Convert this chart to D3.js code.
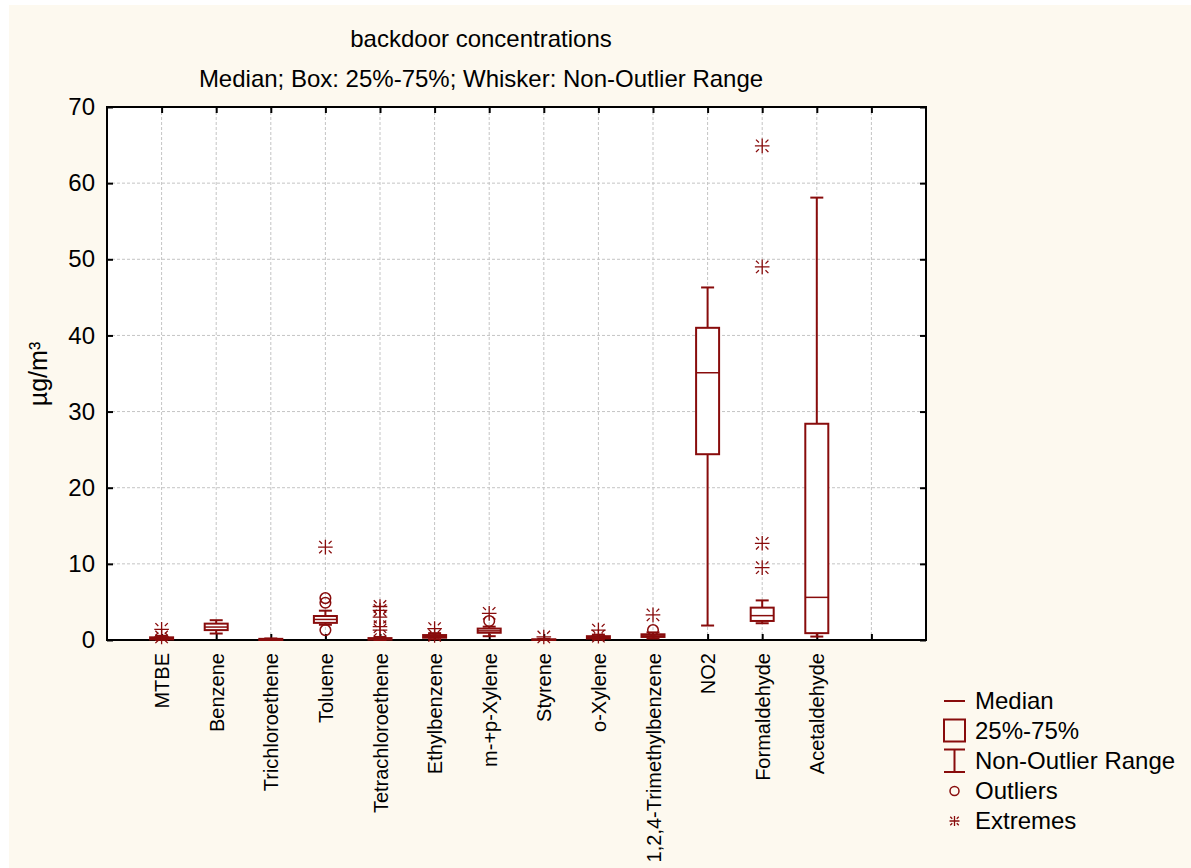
<!DOCTYPE html>
<html>
<head>
<meta charset="utf-8">
<script src="https://cdn.jsdelivr.net/npm/d3@7"></script>
<style>
    html, body { margin: 0; padding: 0; background: #ffffff; }
    svg { display: block; font-family: "Liberation Sans", Arial, sans-serif; }
</style>
</head>
<body>
<div id="chart"></div>
<script>
// values (µg/m³)
const categories = ['MTBE', 'Benzene', 'Trichloroethene', 'Toluene', 'Tetrachloroethene',
    'Ethylbenzene', 'm-+p-Xylene', 'Styrene', 'o-Xylene', '1,2,4-Trimethylbenzene',
    'NO2', 'Formaldehyde', 'Acetaldehyde'];
const whiskerLow  = [0.0, 0.85, 0.0, 2.0, 0.0, 0.1, 0.5, 0.0, 0.05, 0.2, 1.9, 2.2, 0.45];
const q1          = [0.08, 1.3, 0.0, 2.25, 0.05, 0.3, 0.95, 0.0, 0.2, 0.4, 24.4, 2.5, 0.9];
const medians     = [0.15, 1.7, 0.05, 2.7, 0.1, 0.45, 1.2, 0.03, 0.3, 0.55, 35.1, 3.2, 5.6];
const q3          = [0.35, 2.15, 0.15, 3.15, 0.25, 0.65, 1.5, 0.1, 0.5, 0.75, 41.0, 4.25, 28.4];
const whiskerHigh = [0.55, 2.6, 0.2, 3.85, 0.4, 0.9, 1.75, 0.15, 0.7, 1.0, 46.3, 5.2, 58.1];
const outliers = [[], [], [], [5.5, 4.9, 1.3], [], [], [2.5], [], [], [1.3], [], [], []];
const extremes = [[1.4, 0.4], [], [], [12.2], [4.4, 3.9, 3.0, 1.75, 1.3], [1.5, 0.6],
    [3.5], [0.4], [1.3, 0.5], [3.3], [], [64.9, 49.0, 12.7, 9.5], []];
const yTicks = [0, 10, 20, 30, 40, 50, 60, 70];
const legendItems = ['Median', '25%-75%', 'Non-Outlier Range', 'Outliers', 'Extremes'];

const W = 1191, H = 868;
const plot = { left: 107, right: 926, top: 107, bottom: 640 };
const red = '#880c0c';

const svg = d3.select('#chart').append('svg')
    .attr('width', W)
    .attr('height', H);

svg.append('rect')
    .attr('x', 9).attr('y', 5)
    .attr('width', W - 9).attr('height', H - 5)
    .attr('fill', '#fdf9ef');

svg.append('rect')
    .attr('x', plot.left).attr('y', plot.top)
    .attr('width', plot.right - plot.left)
    .attr('height', plot.bottom - plot.top)
    .attr('fill', '#ffffff');

// one empty slot to the right of the last category
const x = d3.scaleLinear()
    .domain([0, categories.length + 2])
    .range([plot.left, plot.right]);
const slots = d3.range(1, categories.length + 2);

const y = d3.scaleLinear()
    .domain([0, 70])
    .range([plot.bottom, plot.top]);

// grid
const grid = svg.append('g')
    .attr('stroke', '#c4c4c4')
    .attr('stroke-width', 1)
    .attr('stroke-dasharray', '3,2');
yTicks.slice(1, -1).forEach(t => {
    grid.append('line')
        .attr('x1', plot.left).attr('x2', plot.right)
        .attr('y1', y(t)).attr('y2', y(t));
});
slots.forEach(s => {
    grid.append('line')
        .attr('x1', x(s)).attr('x2', x(s))
        .attr('y1', plot.top).attr('y2', plot.bottom);
});

// axes with inward ticks on every side
const axisG = svg.append('g').attr('font-family', '"Liberation Sans", Arial, sans-serif');

axisG.append('g')
    .attr('transform', `translate(${plot.left},0)`)
    .call(d3.axisLeft(y).tickValues(yTicks).tickSize(-6).tickPadding(12).tickFormat(d3.format('d')))
    .call(g => g.selectAll('text').attr('font-size', 24).attr('fill', '#000'));

axisG.append('g')
    .attr('transform', `translate(${plot.right},0)`)
    .call(d3.axisRight(y).tickValues(yTicks).tickSize(-6).tickFormat(''));

axisG.append('g')
    .attr('transform', `translate(0,${plot.top})`)
    .call(d3.axisTop(x).tickValues(slots).tickSize(-6).tickFormat(''));

const bottomAxis = axisG.append('g')
    .attr('transform', `translate(0,${plot.bottom})`)
    .call(d3.axisBottom(x).tickValues(slots).tickSize(-6).tickFormat(d => categories[d - 1] || ''));

bottomAxis.selectAll('text')
    .attr('font-size', 20)
    .attr('fill', '#000')
    .attr('text-anchor', 'end')
    .attr('transform', 'rotate(-90)')
    .attr('x', -13)
    .attr('y', 0)
    .attr('dy', '0.35em');

axisG.selectAll('.domain').remove();
axisG.selectAll('.tick line').attr('stroke', '#000').attr('stroke-width', 2);

svg.append('rect')
    .attr('x', plot.left).attr('y', plot.top)
    .attr('width', plot.right - plot.left)
    .attr('height', plot.bottom - plot.top)
    .attr('fill', 'none')
    .attr('stroke', '#000')
    .attr('stroke-width', 2);

// titles
svg.append('text')
    .attr('x', 481).attr('y', 47)
    .attr('text-anchor', 'middle')
    .attr('font-size', 24)
    .text('backdoor concentrations');

svg.append('text')
    .attr('x', 481).attr('y', 87)
    .attr('text-anchor', 'middle')
    .attr('font-size', 24)
    .text('Median; Box: 25%-75%; Whisker: Non-Outlier Range');

svg.append('text')
    .attr('transform', 'translate(47,374) rotate(-90)')
    .attr('text-anchor', 'middle')
    .attr('font-size', 25)
    .text('µg/m³');

// markers
function asterisk(g, cx, cy, r) {
    const d = r * 0.45, e = r * 0.85;
    g.append('path')
        .attr('d', `M${cx - r},${cy}H${cx + r}M${cx},${cy - r}V${cy + r}` +
            `M${cx - e},${cy - e}L${cx - d},${cy - d}M${cx + e},${cy - e}L${cx + d},${cy - d}` +
            `M${cx - e},${cy + e}L${cx - d},${cy + d}M${cx + e},${cy + e}L${cx + d},${cy + d}`)
        .attr('fill', 'none')
        .attr('stroke', red)
        .attr('stroke-width', 1.3);
}

function circle(g, cx, cy, r) {
    g.append('circle')
        .attr('cx', cx).attr('cy', cy).attr('r', r)
        .attr('fill', 'none')
        .attr('stroke', red)
        .attr('stroke-width', 1.5);
}

const boxW = 23, capW = 13;
const boxes = svg.append('g');

categories.forEach((c, i) => {
    const cx = x(i + 1);
    const g = boxes.append('g');
    g.append('line')
        .attr('x1', cx).attr('x2', cx)
        .attr('y1', y(whiskerLow[i])).attr('y2', y(whiskerHigh[i]))
        .attr('stroke', red).attr('stroke-width', 2);
    [whiskerLow[i], whiskerHigh[i]].forEach(v => {
        g.append('line')
            .attr('x1', cx - capW / 2).attr('x2', cx + capW / 2)
            .attr('y1', y(v)).attr('y2', y(v))
            .attr('stroke', red).attr('stroke-width', 2);
    });
    g.append('rect')
        .attr('x', cx - boxW / 2).attr('y', y(q3[i]))
        .attr('width', boxW)
        .attr('height', Math.max(0.5, y(q1[i]) - y(q3[i])))
        .attr('fill', '#ffffff')
        .attr('stroke', red).attr('stroke-width', 2);
    g.append('line')
        .attr('x1', cx - boxW / 2).attr('x2', cx + boxW / 2)
        .attr('y1', y(medians[i])).attr('y2', y(medians[i]))
        .attr('stroke', red).attr('stroke-width', 1.5);
    outliers[i].forEach(v => circle(g, cx, y(v), 5.3));
    extremes[i].forEach(v => asterisk(g, cx, y(v), 7.3));
});

// legend
const legend = svg.append('g');
const lx = 954.5, ly0 = 701, lstep = 30;
legendItems.forEach((t, i) => {
    legend.append('text')
        .attr('x', 975).attr('y', ly0 + i * lstep)
        .attr('dy', '0.35em')
        .attr('font-size', 24)
        .text(t);
});
legend.append('line')
    .attr('x1', lx - 10.5).attr('x2', lx + 10.5)
    .attr('y1', ly0).attr('y2', ly0)
    .attr('stroke', red).attr('stroke-width', 2);
legend.append('rect')
    .attr('x', lx - 10.5).attr('y', ly0 + lstep - 11.5)
    .attr('width', 21).attr('height', 22)
    .attr('fill', 'none')
    .attr('stroke', red).attr('stroke-width', 2);
legend.append('path')
    .attr('d', `M${lx - 10.5},${ly0 + 2 * lstep - 11.5}H${lx + 10.5}M${lx},${ly0 + 2 * lstep - 11.5}` +
        `V${ly0 + 2 * lstep + 11}M${lx - 10.5},${ly0 + 2 * lstep + 11}H${lx + 10.5}`)
    .attr('fill', 'none')
    .attr('stroke', red).attr('stroke-width', 2);
circle(legend, lx, ly0 + 3 * lstep, 4.5);
asterisk(legend, lx, ly0 + 4 * lstep, 5);
</script>
</body>
</html>
